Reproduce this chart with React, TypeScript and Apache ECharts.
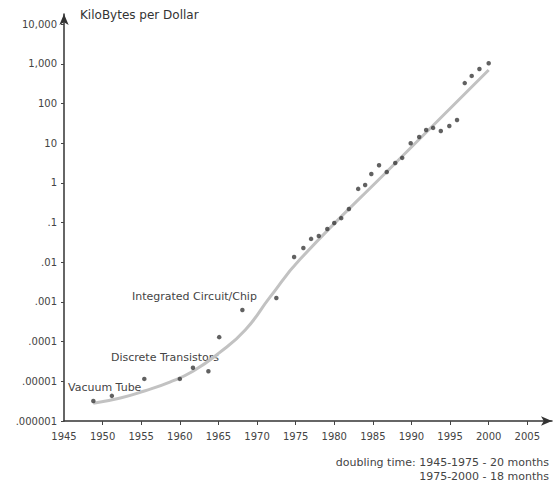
import React, { useEffect, useRef } from "react";
import * as echarts from "echarts";

// Measured price-performance of computing hardware (kilobytes of memory per dollar)
const pointYears = [
  1948.8, 1951.2, 1955.4, 1960.0, 1961.7, 1963.7, 1965.1, 1968.1, 1972.5,
  1974.8, 1976.0, 1977.0, 1978.0, 1979.1, 1980.0, 1980.9, 1981.9, 1983.1,
  1984.0, 1984.8, 1985.8, 1986.8, 1987.9, 1988.8, 1989.9, 1991.0, 1991.9,
  1992.8, 1993.8, 1994.9, 1995.9, 1996.9, 1997.8, 1998.8, 2000.0,
];
const pointValues = [
  0.0000032, 0.0000043, 0.0000115, 0.0000115, 0.000022, 0.000018, 0.00013,
  0.00063, 0.00126, 0.0136, 0.023, 0.039, 0.046, 0.069, 0.098, 0.13, 0.22,
  0.71, 0.89, 1.68, 2.8, 1.9, 3.2, 4.3, 10, 14.4, 21.7, 24.5, 20.4, 27.3,
  38.7, 330, 500, 750, 1040,
];

// Fitted trend curve
const trendYears = [1948.8, 1952.3, 1955.4, 1958.7, 1961.7, 1965.1, 1968.5, 1971.7, 1975.6, 1987.8, 2000.0];
const trendValues = [0.0000028, 0.0000038, 0.0000057, 0.0000096, 0.000018, 0.000052, 0.0002, 0.00134, 0.0121, 3.0, 705];

// Axis ticks
const xTickYears = [1950, 1955, 1960, 1965, 1970, 1975, 1980, 1985, 1990, 1995, 2000, 2005];
const xLabelYears = [1945, ...xTickYears];
const yDecades = [-6, -5, -4, -3, -2, -1, 0, 1, 2, 3, 4];
const yTickLabels = [".000001", ".00001", ".0001", ".001", ".01", ".1", "1", "10", "100", "1,000", "10,000"];

// Era annotations
const eraLabels = ["Vacuum Tube", "Discrete Transistors", "Integrated Circuit/Chip"];

const FONT = "DejaVu Sans";
const TEXT = "#444";

export default function App() {
  const ref = useRef<HTMLDivElement>(null);

  useEffect(() => {
    if (!ref.current) return;
    const chart = echarts.init(ref.current, null, { renderer: "svg" });

    const scatterData = pointYears.map((yr, i) => [yr, Math.log10(pointValues[i])]);
    const trendData = trendYears.map((yr, i) => [yr, Math.log10(trendValues[i])]);

    const textStyle = (text: string) => ({
      text,
      font: `11px "${FONT}"`,
      fill: TEXT,
      textVerticalAlign: "middle",
    });

    chart.setOption({
      animation: false,
      backgroundColor: "#fff",
      grid: { left: 64, top: 14, right: 7, bottom: 64, outerBoundsMode: "none" },
      xAxis: {
        type: "value",
        min: 1945,
        max: 2008.2,
        splitLine: { show: false },
        axisLine: {
          show: true,
          onZero: false,
          symbol: ["none", "arrow"],
          symbolSize: [7, 11],
          lineStyle: { color: "#333", width: 1.5 },
        },
        axisTick: {
          show: true,
          length: 4,
          customValues: xTickYears,
          lineStyle: { color: "#444" },
        },
        axisLabel: {
          customValues: xLabelYears,
          margin: 10,
          color: TEXT,
          fontFamily: FONT,
          fontSize: 10,
          formatter: (v: number) => String(Math.round(v)),
        },
      },
      yAxis: {
        type: "value",
        min: -6,
        max: 4.26,
        splitLine: { show: false },
        axisLine: {
          show: true,
          onZero: false,
          symbol: ["none", "arrow"],
          symbolSize: [7, 11],
          lineStyle: { color: "#333", width: 1.5 },
        },
        axisTick: {
          show: true,
          length: 3,
          customValues: yDecades,
          lineStyle: { color: "#444" },
        },
        axisLabel: {
          customValues: yDecades,
          margin: 7,
          color: TEXT,
          fontFamily: FONT,
          fontSize: 10,
          formatter: (v: number) => yTickLabels[Math.round(v) + 6] ?? "",
        },
      },
      series: [
        {
          type: "line",
          data: trendData,
          smooth: 0.5,
          showSymbol: false,
          silent: true,
          z: 1,
          lineStyle: { color: "#c2c2c2", width: 3 },
        },
        {
          type: "scatter",
          data: scatterData,
          symbol: "circle",
          symbolSize: 4.5,
          z: 3,
          itemStyle: { color: "#3a3a3a" },
        },
      ],
      graphic: [
        {
          type: "text",
          x: 80,
          y: 15,
          style: {
            text: "KiloBytes per Dollar",
            font: `12px "${FONT}"`,
            fill: "#333",
            textVerticalAlign: "middle",
          },
        },
        { type: "text", x: 68, y: 387, style: textStyle(eraLabels[0]) },
        { type: "text", x: 111, y: 357, style: textStyle(eraLabels[1]) },
        { type: "text", x: 132, y: 296, style: textStyle(eraLabels[2]) },
        {
          type: "text",
          x: 549,
          y: 462,
          style: { ...textStyle("doubling time: 1945-1975 - 20 months"), textAlign: "right" },
        },
        {
          type: "text",
          x: 549,
          y: 476,
          style: { ...textStyle("1975-2000 - 18 months"), textAlign: "right" },
        },
      ],
    });

    return () => chart.dispose();
  }, []);

  return (
    <div
      ref={ref}
      style={{ position: "fixed", left: 0, top: 0, width: 559, height: 485 }}
    />
  );
}
